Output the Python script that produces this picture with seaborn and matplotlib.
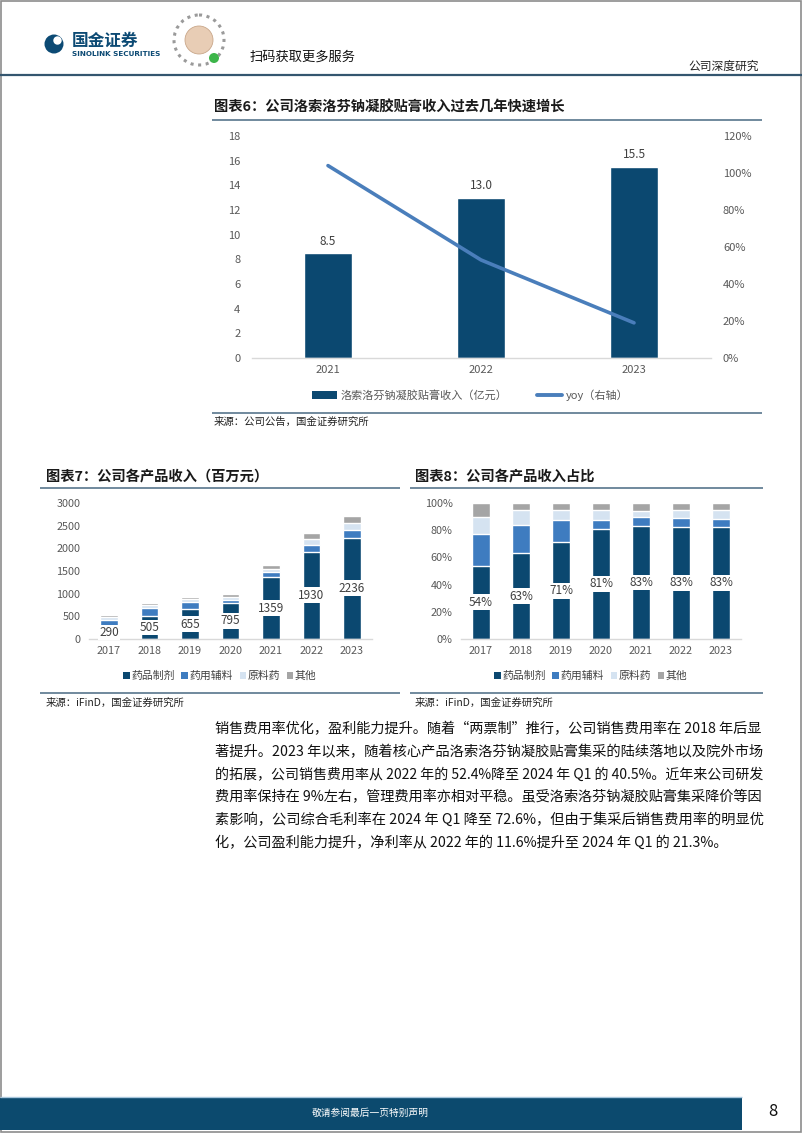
import matplotlib
matplotlib.use("Agg")
import matplotlib.pyplot as plt
import seaborn as sns
import pandas as pd
import numpy as np
from matplotlib.patches import Rectangle, Circle
from matplotlib.lines import Line2D

sns.set_theme(style="white")
plt.rcParams['font.family'] = ['Noto Sans CJK SC', 'DejaVu Sans']
plt.rcParams['axes.unicode_minus'] = False

# ---------------- data ----------------
c6_years = ["2021", "2022", "2023"]
c6_revenue = [8.5, 13.0, 15.5]          # 亿元
c6_yoy = [1.04, 0.53, 0.19]             # 右轴

years = ["2017", "2018", "2019", "2020", "2021", "2022", "2023"]
drug = [290, 505, 655, 795, 1359, 1930, 2236]     # 药品制剂
excip = [124, 168, 154, 66, 110, 145, 160]        # 药用辅料
api = [70, 88, 67, 72, 75, 135, 170]              # 原料药
other = [54, 40, 46, 49, 93, 125, 140]            # 其他
series_names = ["药品制剂", "药用辅料", "原料药", "其他"]

c6_ticks = [0, 2, 4, 6, 8, 10, 12, 14, 16, 18]
c6_rticks = [0, 0.2, 0.4, 0.6, 0.8, 1.0, 1.2]
c7_ticks = [0, 500, 1000, 1500, 2000, 2500, 3000]
c8_ticks = [0, 0.2, 0.4, 0.6, 0.8, 1.0]

paragraph = [
    "销售费用率优化，盈利能力提升。随着“两票制”推行，公司销售费用率在 2018 年后显",
    "著提升。2023 年以来，随着核心产品洛索洛芬钠凝胶贴膏集采的陆续落地以及院外市场",
    "的拓展，公司销售费用率从 2022 年的 52.4%降至 2024 年 Q1 的 40.5%。近年来公司研发",
    "费用率保持在 9%左右，管理费用率亦相对平稳。虽受洛索洛芬钠凝胶贴膏集采降价等因",
    "素影响，公司综合毛利率在 2024 年 Q1 降至 72.6%，但由于集采后销售费用率的明显优",
    "化，公司盈利能力提升，净利率从 2022 年的 11.6%提升至 2024 年 Q1 的 21.3%。",
]

# ---------------- style ----------------
NAVY = "#0B4870"
MID = "#3E7CC0"
LIGHT = "#D5E3F1"
GRAY = "#A5A5A5"
LINE = "#4A7EBB"
TICK = "#595959"
RULE = "#58758C"

W, H = 802, 1133
fig = plt.figure(figsize=(W / 100, H / 100), dpi=100)
fig.patch.set_facecolor("white")

# page overlay in pixel coordinates (for decorations only)
page = fig.add_axes([0, 0, 1, 1], zorder=-5)
page.set_xlim(0, W)
page.set_ylim(H, 0)
page.axis("off")


def fx(x):
    return x / W


def fy(y):
    return 1 - y / H


def hline(y, x0, x1, color=RULE, lw=1.2):
    page.plot([x0, x1], [y, y], color=color, lw=lw, solid_capstyle="butt")


def style_axis(ax, minor_pos):
    for s in ["top", "right", "left"]:
        ax.spines[s].set_visible(False)
    ax.spines["bottom"].set_color("#D9D9D9")
    ax.spines["bottom"].set_linewidth(1)
    ax.set_xlabel("")
    ax.set_ylabel("")
    ax.grid(False)
    ax.set_xticks(minor_pos, minor=True)
    ax.tick_params(axis="x", which="major", length=0, colors=TICK)
    ax.tick_params(axis="x", which="minor", length=4, color="#D9D9D9", width=1, direction="out")
    ax.tick_params(axis="y", length=0, colors=TICK)


# ---------------- page frame / header / footer ----------------
page.add_patch(Rectangle((0.6, 0.6), W - 1.2, H - 1.2, fill=False, ec="#8C8C8C", lw=1.2))
# logo
page.add_patch(Circle((54, 44), 9.5, fc="#0C4A74", ec="none"))
page.add_patch(Circle((57.5, 40.5), 4.2, fc="white", ec="none"))
fig.text(fx(72), fy(41), "国金证券", fontsize=12, fontweight="bold", color="#0C4A74",
         va="center", ha="left")
fig.text(fx(72), fy(54), "SINOLINK SECURITIES", fontsize=5.2, fontweight="bold",
         color="#0C4A74", va="center", ha="left", family=["DejaVu Sans"])
# qr placeholder
page.add_patch(Circle((199, 40), 25, fc="none", ec="#9A9A9A", lw=2.2, ls=(0, (1, 1.5))))
page.add_patch(Circle((199, 40), 14, fc="#E8CDB5", ec="#C9A78A", lw=0.6))
page.add_patch(Circle((214, 58), 5, fc="#3DB54A", ec="none"))
fig.text(fx(250), fy(57), "扫码获取更多服务", fontsize=9.5, color="#111111",
         va="center", ha="left")
fig.text(fx(759), fy(66), "公司深度研究", fontsize=8.5, color="#222222",
         va="center", ha="right")
hline(75, 0, W, color="#34566F", lw=1.6)

# footer
page.add_patch(Rectangle((0, 1098), 742, 32, fc="#0C4A6E", ec="none"))
hline(1097, 0, 742, color="#A9C7DD", lw=1)
fig.text(fx(370), fy(1113), "敬请参阅最后一页特别声明", fontsize=7, color="white",
         va="center", ha="center")
fig.text(fx(773), fy(1112), "8", fontsize=12, color="#111111", va="center", ha="center")

# ---------------- Chart 6 ----------------
fig.text(fx(214), fy(108), "图表6：公司洛索洛芬钠凝胶贴膏收入过去几年快速增长",
         fontsize=10.3, fontweight="bold", fontstyle="italic", color="#1a1a1a",
         va="center", ha="left")
hline(120, 212, 762)

ax6 = fig.add_axes([fx(251.5), fy(358), (710.5 - 251.5) / W, (358 - 136) / H])
df6 = pd.DataFrame({"year": c6_years, "rev": c6_revenue, "yoy": c6_yoy,
                    "pos": np.arange(len(c6_years))})
sns.barplot(data=df6, x="year", y="rev", color=NAVY, saturation=1, width=0.31, ax=ax6)
ax6.set_xlim(-0.5, len(c6_years) - 0.5)
ax6.set_ylim(0, 18)
ax6.set_yticks(c6_ticks)
ax6.set_yticklabels([str(t) for t in c6_ticks], fontsize=8)
ax6.tick_params(axis="y", pad=8)
ax6.tick_params(axis="x", labelsize=8, pad=5)
style_axis(ax6, np.arange(len(c6_years) + 1) - 0.5)
for i, v in enumerate(c6_revenue):
    ax6.text(i, v + 0.45, f"{v:.1f}", ha="center", va="bottom", fontsize=8.5, color="#404040")

ax6r = ax6.twinx()
sns.lineplot(data=df6, x="pos", y="yoy", color=LINE, linewidth=2.6, ax=ax6r)
ax6r.set_ylim(0, 1.2)
ax6r.set_yticks(c6_rticks)
ax6r.set_yticklabels([f"{int(round(t * 100))}%" for t in c6_rticks], fontsize=8)
ax6r.tick_params(axis="y", length=0, colors=TICK, pad=9)
for s in ax6r.spines.values():
    s.set_visible(False)
ax6r.set_ylabel("")
ax6r.set_xlabel("")
ax6r.grid(False)
ax6.set_xlim(-0.5, len(c6_years) - 0.5)

h6 = [Rectangle((0, 0), 1, 1, fc=NAVY, ec="none"), Line2D([], [], color=LINE, lw=2.8)]
fig.legend(h6, ["洛索洛芬钠凝胶贴膏收入（亿元）", "yoy（右轴）"], loc="center",
           bbox_to_anchor=(fx(470), fy(395)), ncol=2, frameon=False, fontsize=8,
           labelcolor=TICK, handlelength=2.3, handleheight=0.7, handletextpad=0.3,
           columnspacing=2.6)
hline(413, 212, 762)
fig.text(fx(214), fy(422), "来源：公司公告，国金证券研究所", fontsize=7.5, color="#222222",
         va="center", ha="left")

# ---------------- Chart 7 ----------------
fig.text(fx(46), fy(477), "图表7：公司各产品收入（百万元）", fontsize=10.3, fontweight="bold",
         fontstyle="italic", color="#1a1a1a", va="center", ha="left")
hline(488, 40, 400)

df7 = pd.DataFrame({"year": years, "drug": drug, "excip": excip, "api": api, "other": other})
df7["s1"] = df7["drug"]
df7["s2"] = df7["s1"] + df7["excip"]
df7["s3"] = df7["s2"] + df7["api"]
df7["s4"] = df7["s3"] + df7["other"]

ax7 = fig.add_axes([fx(88.75), fy(639), (372.25 - 88.75) / W, (639 - 503) / H])
for col, c in [("s4", GRAY), ("s3", LIGHT), ("s2", MID), ("s1", NAVY)]:
    sns.barplot(data=df7, x="year", y=col, color=c, saturation=1, width=0.42, ax=ax7)
ax7.set_xlim(-0.5, len(years) - 0.5)
ax7.set_ylim(0, 3000)
ax7.set_yticks(c7_ticks)
ax7.set_yticklabels([str(t) for t in c7_ticks], fontsize=7.8)
ax7.tick_params(axis="y", pad=6)
ax7.tick_params(axis="x", labelsize=7.8, pad=5)
style_axis(ax7, np.arange(len(years) + 1) - 0.5)
for i, v in enumerate(drug):
    ax7.text(i, v / 2, f"{v}", ha="center", va="center", fontsize=8.5, color="#404040",
             bbox=dict(boxstyle="square,pad=0.12", fc="white", ec="none"))

cols4 = [NAVY, MID, LIGHT, GRAY]
h78 = [Rectangle((0, 0), 1, 1, fc=c, ec="none") for c in cols4]
fig.legend(h78, series_names, loc="center", bbox_to_anchor=(fx(220), fy(676)), ncol=4,
           frameon=False, fontsize=7.8, labelcolor="#404040", handlelength=0.6,
           handleheight=0.6, handletextpad=0.15, columnspacing=0.6)
hline(693, 40, 400)
fig.text(fx(46), fy(703), "来源：iFinD，国金证券研究所", fontsize=7.5, color="#222222",
         va="center", ha="left")

# ---------------- Chart 8 ----------------
fig.text(fx(415), fy(477), "图表8：公司各产品收入占比", fontsize=10.3, fontweight="bold",
         fontstyle="italic", color="#1a1a1a", va="center", ha="left")
hline(488, 410, 763)

df8 = df7.copy()
for col in ["s1", "s2", "s3", "s4"]:
    df8[col] = df7[col] / df7["s4"]

ax8 = fig.add_axes([fx(461), fy(639), (741 - 461) / W, (639 - 503) / H])
for col, c in [("s4", GRAY), ("s3", LIGHT), ("s2", MID), ("s1", NAVY)]:
    sns.barplot(data=df8, x="year", y=col, color=c, saturation=1, width=0.43, ax=ax8)
ax8.set_xlim(-0.5, len(years) - 0.5)
ax8.set_ylim(0, 1.0)
ax8.set_yticks(c8_ticks)
ax8.set_yticklabels([f"{int(round(t * 100))}%" for t in c8_ticks], fontsize=7.8)
ax8.tick_params(axis="y", pad=6)
ax8.tick_params(axis="x", labelsize=7.8, pad=5)
style_axis(ax8, np.arange(len(years) + 1) - 0.5)
for i, v in enumerate(df8["s1"]):
    ax8.text(i, v / 2, f"{int(round(v * 100))}%", ha="center", va="center", fontsize=8.5,
             color="#404040", bbox=dict(boxstyle="square,pad=0.12", fc="white", ec="none"))

fig.legend(h78, series_names, loc="center", bbox_to_anchor=(fx(591), fy(676)), ncol=4,
           frameon=False, fontsize=7.8, labelcolor="#404040", handlelength=0.6,
           handleheight=0.6, handletextpad=0.15, columnspacing=0.6)
hline(693, 410, 763)
fig.text(fx(415), fy(703), "来源：iFinD，国金证券研究所", fontsize=7.5, color="#222222",
         va="center", ha="left")

# ---------------- paragraph ----------------
renderer = fig.canvas.get_renderer()
target_w = 762 - 215
base_fs = 10.2
line_y = [729, 752, 775, 797, 820, 843]
for k, (txt, yy) in enumerate(zip(paragraph, line_y)):
    t = fig.text(fx(215), fy(yy), txt, fontsize=base_fs, color="#111111",
                 va="center", ha="left")
    if k < len(paragraph) - 1:
        w = t.get_window_extent(renderer).width
        scale = min(max(target_w / w, 0.94), 1.06)
        t.set_fontsize(base_fs * scale)

fig.savefig("out.png", dpi=100, facecolor="white")
